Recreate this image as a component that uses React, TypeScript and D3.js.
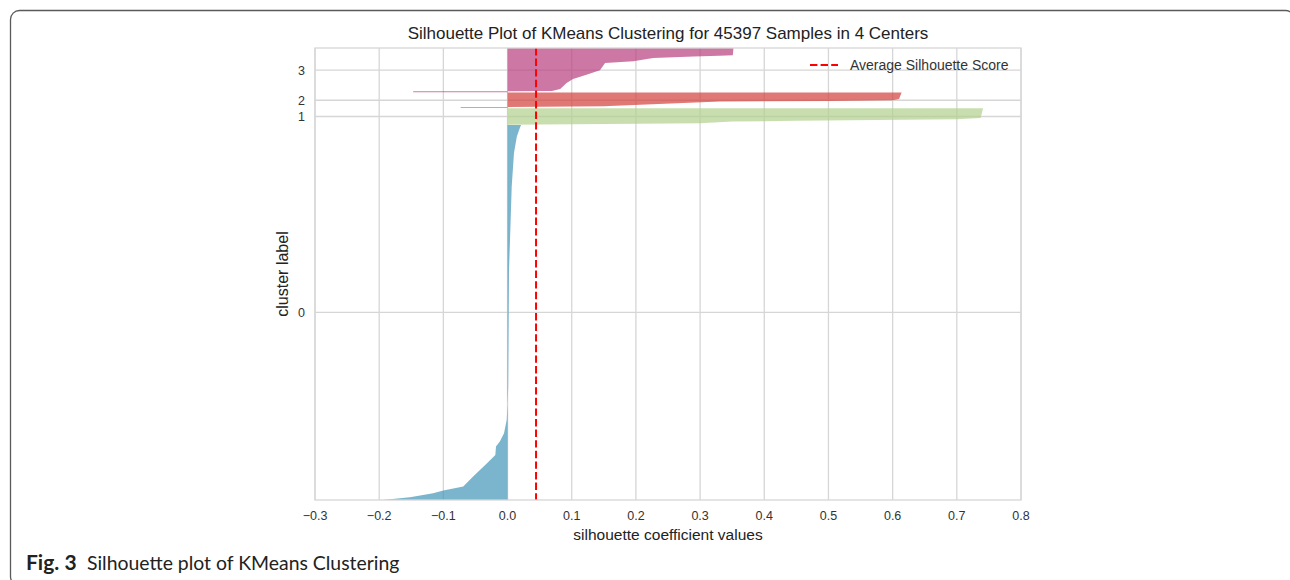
import React from 'react';
import * as d3 from 'd3';

// ---------------- data ----------------
const TITLE = 'Silhouette Plot of KMeans Clustering for 45397 Samples in 4 Centers';
const X_LABEL = 'silhouette coefficient values';
const Y_LABEL = 'cluster label';
const LEGEND_LABEL = 'Average Silhouette Score';
const CAPTION_BOLD = 'Fig. 3';
const CAPTION_TEXT = 'Silhouette plot of KMeans Clustering';

const N_SAMPLES = 45397;
const CLUSTER_LABELS = ['0', '1', '2', '3'];
const CLUSTER_SIZES = [37700, 1680, 1570, 4447];
const X_TICKS = [-0.3, -0.2, -0.1, 0.0, 0.1, 0.2, 0.3, 0.4, 0.5, 0.6, 0.7, 0.8];
const AVG_SCORE = 0.0444;

// sorted silhouette profile per cluster: rank within cluster -> value
const C0_RANK = [0, 270, 670, 935, 1340, 2340, 3690, 4520, 5360, 5860, 6700, 8040, 10050, 11360, 18800, 23130, 26475, 31500, 34890, 36530, 37200, 37700];
const C0_VALUE = [-0.195, -0.152, -0.116, -0.1, -0.069, -0.054, -0.032, -0.019, -0.018, -0.012, -0.0055, -0.0013, 0.0003, 0.001, 0.0018, 0.0023, 0.004, 0.0065, 0.01, 0.0145, 0.018, 0.021];

const C1_RANK = [0, 60, 150, 330, 400, 560, 700, 1680];
const C1_VALUE = [0.0, 0.1, 0.3, 0.35, 0.45, 0.7, 0.737, 0.741];

const C2_RANK = [0, 90, 110, 170, 660, 720, 780, 900, 1570];
const C2_VALUE = [-0.073, -0.073, 0.0, 0.149, 0.331, 0.5, 0.6, 0.61, 0.614];

const C3_RANK = [0, 100, 120, 140, 342, 945, 1347, 1780, 2212, 2956, 3117, 3459, 3590, 3690, 3740, 4447];
const C3_VALUE = [-0.147, -0.147, 0.0, 0.069, 0.082, 0.092, 0.102, 0.123, 0.144, 0.152, 0.196, 0.227, 0.29, 0.33, 0.351, 0.352];

const RANKS = [C0_RANK, C1_RANK, C2_RANK, C3_RANK];
const VALUES = [C0_VALUE, C1_VALUE, C2_VALUE, C3_VALUE];

// ---------------- styles ----------------
const COLORS = ['#4194b8', '#b0d08d', '#d33e3b', '#b83e7e'];
const FILL_OPACITY = 0.7;
const GRID = '#d6d6d6';
const TEXT = '#333333';
const FONT = 'Liberation Sans, Arial, sans-serif';

export default function App() {
  const W = 1290;
  const H = 580;
  const left = 315;
  const right = 1021;
  const top = 48;
  const bottom = 500;

  const x = d3.scaleLinear().domain([-0.3, 0.8]).range([left, right]);
  const yMax = N_SAMPLES + (CLUSTER_SIZES.length + 1) * 10;
  const y = d3.scaleLinear().domain([0, yMax]).range([bottom, top]);

  let lower = 10;
  const clusters = CLUSTER_SIZES.map((size, i) => {
    const start = lower;
    lower += size + 10;
    const pts: [number, number][] = RANKS[i].map((r, j) => [start + r, VALUES[i][j]]);
    return { start, size, mid: start + 0.5 * size, pts, label: CLUSTER_LABELS[i] };
  });

  const area = d3
    .area<[number, number]>()
    .x0(x(0))
    .x1((d) => x(d[1]))
    .y((d) => y(d[0]))
    .curve(d3.curveLinear);

  const fmt = (v: number) => {
    const s = Math.abs(v).toFixed(1);
    return v < -1e-9 ? '\u2212' + s : s;
  };

  const legendY = 65;

  return (
    <svg
      width={W}
      height={H}
      style={{ position: 'absolute', left: 0, top: 0, display: 'block', background: '#fff' }}
    >
      <rect x={0} y={0} width={W} height={H} fill="#fff" />
      {/* page frame */}
      <rect x={10.5} y={10.5} width={1284} height={575} rx={9} ry={9} fill="none" stroke="#5a5a5a" strokeWidth={1.3} />

      {/* grid */}
      {X_TICKS.map((t) => (
        <line key={'gx' + t} x1={x(t)} x2={x(t)} y1={top} y2={bottom} stroke={GRID} strokeWidth={1.3} />
      ))}
      {clusters.map((c) => (
        <line key={'gy' + c.label} x1={left} x2={right} y1={y(c.mid)} y2={y(c.mid)} stroke={GRID} strokeWidth={1.3} />
      ))}

      {/* silhouettes */}
      {clusters.map((c, i) => (
        <path key={'a' + c.label} d={area(c.pts) || ''} fill={COLORS[i]} fillOpacity={FILL_OPACITY} />
      ))}

      {/* average line */}
      <line
        x1={x(AVG_SCORE)}
        x2={x(AVG_SCORE)}
        y1={top}
        y2={bottom}
        stroke="#ff0000"
        strokeWidth={2}
        strokeDasharray="7.4,3.2"
      />

      {/* frame */}
      <rect x={left} y={top} width={right - left} height={bottom - top} fill="none" stroke={GRID} strokeWidth={1.3} />

      {/* x tick labels */}
      {X_TICKS.map((t) => (
        <text key={'tx' + t} x={x(t)} y={520} textAnchor="middle" fontFamily={FONT} fontSize={12.5} fill={TEXT}>
          {fmt(t)}
        </text>
      ))}
      {/* y tick labels */}
      {clusters.map((c) => (
        <text key={'ty' + c.label} x={305} y={y(c.mid)} dy="0.36em" textAnchor="end" fontFamily={FONT} fontSize={12.5} fill={TEXT}>
          {c.label}
        </text>
      ))}

      {/* labels */}
      <text x={(left + right) / 2} y={39} textAnchor="middle" fontFamily={FONT} fontSize={17} fill="#222">
        {TITLE}
      </text>
      <text x={(left + right) / 2} y={540} textAnchor="middle" fontFamily={FONT} fontSize={15.5} fill="#222">
        {X_LABEL}
      </text>
      <text
        transform={`translate(288,${(top + bottom) / 2}) rotate(-90)`}
        textAnchor="middle"
        fontFamily={FONT}
        fontSize={16}
        fill="#222"
      >
        {Y_LABEL}
      </text>

      {/* legend */}
      <line x1={810} x2={838} y1={legendY} y2={legendY} stroke="#ff0000" strokeWidth={2} strokeDasharray="7.4,3.2" />
      <text x={850} y={legendY} dy="0.36em" fontFamily={FONT} fontSize={14} fill="#333">
        {LEGEND_LABEL}
      </text>

      {/* caption */}
      <text x={26} y={570} fontFamily="Lato, sans-serif" fontSize={21} fontWeight={700} fill="#222">
        {CAPTION_BOLD}
      </text>
      <text x={87} y={570} fontFamily="Lato, sans-serif" fontSize={19.4} fill="#222">
        {CAPTION_TEXT}
      </text>
    </svg>
  );
}
